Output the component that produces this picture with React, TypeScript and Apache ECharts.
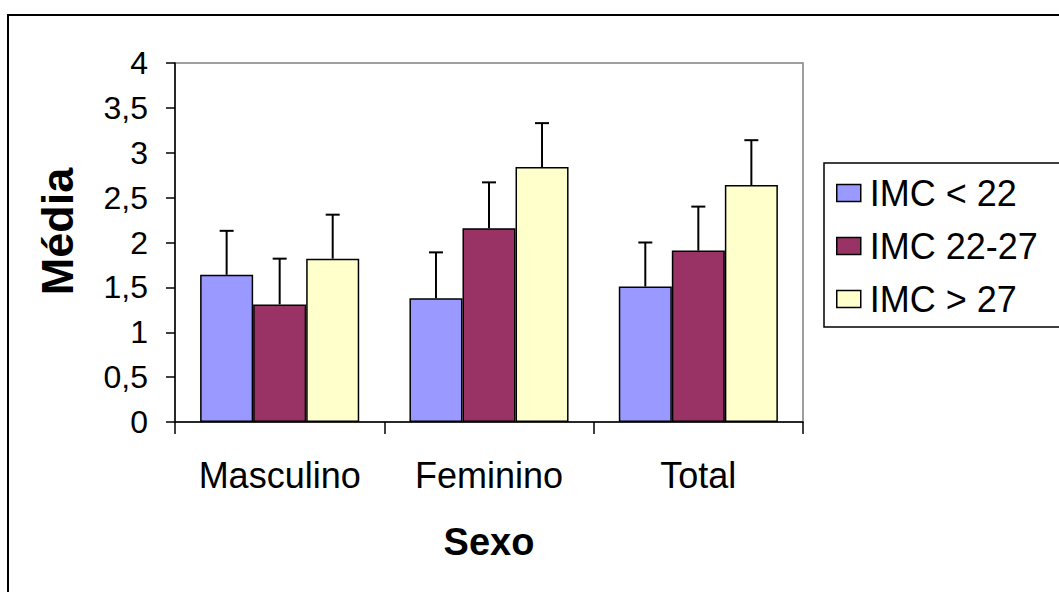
import React, { useEffect, useRef } from "react";
import * as echarts from "echarts";

const categories = ["Masculino", "Feminino", "Total"];
const seriesNames = ["IMC < 22", "IMC 22-27", "IMC > 27"];
const imcLow = [1.64, 1.38, 1.51];
const imcMid = [1.31, 2.16, 1.91];
const imcHigh = [1.82, 2.84, 2.64];
const errLow = [0.49, 0.51, 0.49];
const errMid = [0.51, 0.51, 0.49];
const errHigh = [0.49, 0.49, 0.5];
const colors = ["#9999FF", "#993366", "#FFFFCC"];

const FONT = "'Liberation Sans', Arial, sans-serif";

export default function App() {
  const ref = useRef<HTMLDivElement>(null);
  useEffect(() => {
    if (!ref.current) return;
    const chart = echarts.init(ref.current, undefined, { renderer: "svg" });
    const values = [imcLow, imcMid, imcHigh];
    const errs = [errLow, errMid, errHigh];
    const barSeries = seriesNames.map((name, g) => ({
      name,
      type: "bar",
      data: values[g],
      barGap: "0%",
      barCategoryGap: "24%",
      itemStyle: { color: colors[g], borderColor: "#000", borderWidth: 1.5 },
      z: 2,
    }));
    const errSeries = seriesNames.map((name, g) => ({
      name: "err-" + g,
      type: "custom",
      z: 3,
      data: categories.map((_, i) => [i, values[g][i], errs[g][i]]),
      encode: { x: 0, y: 1 },
      renderItem: (params: any, api: any) => {
        const cat = api.value(0);
        const v = api.value(1);
        const e = api.value(2);
        const band = api.size([1, 0])[0];
        const bw = (band * 0.76) / 3;
        const offset = (g - 1) * bw;
        const base = api.coord([cat, v]);
        const top = api.coord([cat, v + e]);
        const x = base[0] + offset;
        return {
          type: "group",
          children: [
            {
              type: "line",
              shape: { x1: x, y1: base[1], x2: x, y2: top[1] },
              style: { stroke: "#000", lineWidth: 2 },
            },
            {
              type: "line",
              shape: { x1: x - 7, y1: top[1], x2: x + 7, y2: top[1] },
              style: { stroke: "#000", lineWidth: 2 },
            },
          ],
        };
      },
    }));
    chart.setOption({
      animation: false,
      backgroundColor: "#fff",
      textStyle: { fontFamily: FONT, color: "#000" },
      grid: {
        left: 175,
        top: 63,
        width: 628,
        height: 359,
        show: true,
        borderColor: "#808080",
        borderWidth: 1.5,
        backgroundColor: "#fff",
      },
      legend: {
        data: seriesNames,
        orient: "vertical",
        left: 836,
        top: 175,
        itemWidth: 24,
        itemHeight: 17,
        itemGap: 17,
        icon: "rect",
        padding: 0,
        itemStyle: { borderColor: "#000", borderWidth: 1.5 },
        textStyle: { fontFamily: FONT, fontSize: 36, color: "#000", lineHeight: 36, padding: [0, 0, 0, 4] },
      },
      xAxis: {
        type: "category",
        data: categories,
        name: "Sexo",
        nameLocation: "middle",
        nameGap: 101,
        nameTextStyle: { fontFamily: FONT, fontSize: 38, fontWeight: "bold", color: "#000" },
        axisLine: { lineStyle: { color: "#000", width: 1.5 } },
        axisTick: { show: true, interval: 0, length: 12, lineStyle: { color: "#000", width: 1.5 } },
        axisLabel: { fontFamily: FONT, fontSize: 36, color: "#000", margin: 35, interval: 0 },
        splitLine: { show: false },
      },
      yAxis: {
        type: "value",
        min: 0,
        max: 4,
        interval: 0.5,
        name: "Média",
        nameLocation: "middle",
        nameGap: 95,
        nameRotate: 90,
        nameTextStyle: {
          fontFamily: FONT,
          fontSize: 45,
          fontWeight: "bold",
          color: "#000",
          padding: [0, 0, 0, 22],
        },
        axisLine: { show: true, lineStyle: { color: "#000", width: 1.5 } },
        axisTick: { show: true, length: 9, lineStyle: { color: "#000", width: 1.5 } },
        axisLabel: {
          fontFamily: FONT,
          fontSize: 32,
          color: "#000",
          margin: 27,
          formatter: (v: number) => String(v).replace(".", ","),
        },
        splitLine: { show: false },
      },
      graphic: [
        {
          type: "rect",
          z: -10,
          shape: { x: 8, y: 15, width: 1200, height: 700 },
          style: { fill: "none", stroke: "#000", lineWidth: 2 },
        },
        {
          type: "rect",
          z: -5,
          shape: { x: 824, y: 163, width: 300, height: 164 },
          style: { fill: "#fff", stroke: "#000", lineWidth: 1.5 },
        },
      ],
      series: [...barSeries, ...errSeries],
    });
    return () => chart.dispose();
  }, []);
  return (
    <div
      ref={ref}
      style={{ position: "fixed", left: 0, top: 0, width: 1059, height: 592, background: "#fff" }}
    />
  );
}
